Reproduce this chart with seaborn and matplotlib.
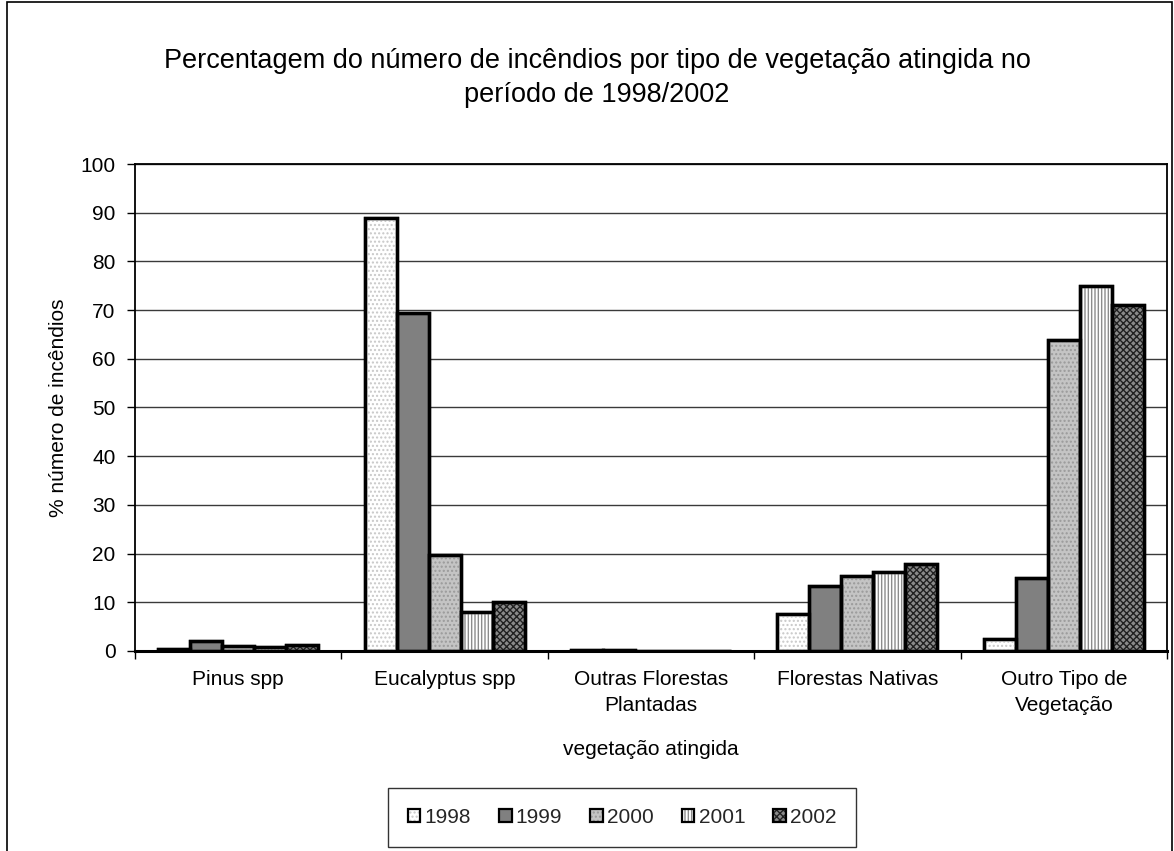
import numpy as np
import pandas as pd
import matplotlib
matplotlib.use("Agg")
import matplotlib.pyplot as plt
from matplotlib.patches import Rectangle, Patch
from matplotlib.legend_handler import HandlerTuple
import seaborn as sns

# ---- data -------------------------------------------------------------
categorias = ["Pinus spp", "Eucalyptus spp", "Outras Florestas\nPlantadas",
              "Florestas Nativas", "Outro Tipo de\nVegetação"]
anos = ["1998", "1999", "2000", "2001", "2002"]
v1998 = [0.4, 89.0, 0.3, 7.7, 2.5]
v1999 = [2.0, 69.5, 0.2, 13.4, 15.0]
v2000 = [1.0, 19.8, 0.0, 15.4, 63.8]
v2001 = [0.8, 8.0, 0.0, 16.2, 75.0]
v2002 = [1.2, 10.0, 0.0, 17.9, 71.0]
yticks = [0, 10, 20, 30, 40, 50, 60, 70, 80, 90, 100]

serie = {"1998": v1998, "1999": v1999, "2000": v2000, "2001": v2001, "2002": v2002}
df = pd.DataFrame([(c, a, serie[a][i]) for a in anos for i, c in enumerate(categorias)],
                  columns=["vegetacao", "ano", "pct"])

# fill style per year: face colour, hatch, hatch colour
faces = {"1998": "#ffffff", "1999": "#808080", "2000": "#c4c4c4", "2001": "#ffffff", "2002": "#8a8a8a"}
hatches = {"1998": "....", "1999": "", "2000": "....", "2001": "|||||", "2002": "xxxxx"}
hatch_cols = {"1998": "#c8c8c8", "1999": "#808080", "2000": "#9a9a9a", "2001": "#8c8c8c", "2002": "#202020"}

# ---- style -------------------------------------------------------------
sns.set_theme(style="white")
plt.rcParams["font.family"] = ["Liberation Sans", "DejaVu Sans"]
plt.rcParams["hatch.linewidth"] = 1.0

W, H = 1174, 851
FS = 15
fig = plt.figure(figsize=(W / 100, H / 100), dpi=100)
ax = fig.add_axes([135 / W, 1 - 651 / H, 1032 / W, 487 / H])

sns.barplot(data=df, x="vegetacao", y="pct", hue="ano", hue_order=anos,
            order=categorias, palette=faces, edgecolor="black", linewidth=2.4,
            width=0.776, gap=0, saturation=1, legend=False, ax=ax, zorder=3)

# texture layer and crisp outline on top of each bar
for ano, cont in zip(anos, ax.containers):
    for bar in cont:
        x, y = bar.get_xy()
        w, h = bar.get_width(), bar.get_height()
        if hatches[ano]:
            ax.add_patch(Rectangle((x, y), w, h, fill=False, hatch=hatches[ano],
                                   edgecolor=hatch_cols[ano], lw=0, zorder=4))
        ax.add_patch(Rectangle((x, y), w, h, fill=False, edgecolor="black",
                               lw=2.4, zorder=5))

ax.set_ylim(0, 100)
ax.set_xlim(-0.5, len(categorias) - 0.5)
ax.set_yticks(yticks)
ax.set_yticklabels([str(t) for t in yticks], fontsize=FS, color="black")
ax.set_xticks(range(len(categorias)))
ax.set_xticklabels(categorias, fontsize=FS, color="black", linespacing=1.5)
ax.set_xticks(np.arange(-0.5, len(categorias), 1.0), minor=True)
ax.tick_params(axis="x", which="major", length=0, pad=13.5)
ax.tick_params(axis="x", which="minor", length=6, width=1, color="black", direction="out", bottom=True)
ax.tick_params(axis="y", length=6, width=1, color="black", direction="out", left=True, pad=8)

ax.yaxis.grid(True, color="#3a3a3a", lw=1.0, zorder=0)
ax.set_axisbelow(True)
for s in ax.spines.values():
    s.set_visible(True)
    s.set_color("black")
    s.set_linewidth(1.3)
ax.spines["bottom"].set_linewidth(2.2)

ax.set_xlabel("vegetação atingida", fontsize=FS, color="black", va="baseline")
ax.xaxis.set_label_coords(0.5, (651 - 755) / 487)
ax.set_ylabel("% número de incêndios", fontsize=FS, color="black", va="center")
ax.yaxis.set_label_coords((59 - 135) / 1032, 0.5)

fig.text(597 / W, 1 - 78 / H,
         "Percentagem do número de incêndios por tipo de vegetação atingida no\nperíodo de 1998/2002",
         ha="center", va="center", fontsize=19.5, color="black", linespacing=1.45)

# legend: each key is fill + texture + outline stacked on one square
handles = []
for ano in anos:
    parts = [Patch(facecolor=faces[ano], edgecolor="none")]
    if hatches[ano]:
        parts.append(Patch(facecolor="none", hatch=hatches[ano], edgecolor=hatch_cols[ano], lw=0))
    parts.append(Patch(facecolor="none", edgecolor="black", lw=1.6))
    handles.append(tuple(parts))
leg = fig.legend(handles, anos, handler_map={tuple: HandlerTuple(ndivide=1, pad=0)},
                 loc="upper left", bbox_to_anchor=(388 / W, 1 - 788 / H), ncol=5,
                 fontsize=FS, frameon=True, fancybox=False, edgecolor="black",
                 handlelength=0.6, handleheight=0.6, handletextpad=0.2,
                 columnspacing=1.35, borderpad=0.95, borderaxespad=0)
leg.get_frame().set_linewidth(1.0)

# outer chart border
fig.patches.append(Rectangle((7 / W, -0.01), (1172 - 7) / W, 1.01 - 2 / H, transform=fig.transFigure,
                             fill=False, edgecolor="black", lw=1.2))

fig.savefig("out.png", dpi=100)
